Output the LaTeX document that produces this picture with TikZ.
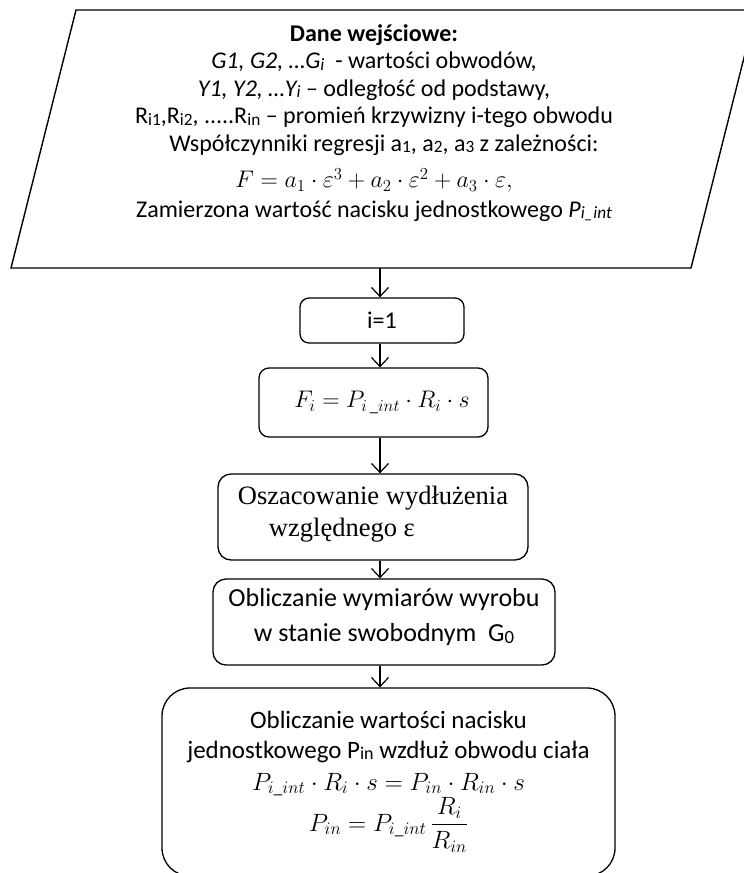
\RequirePackage{fix-cm}
\documentclass[tikz,border=0pt]{standalone}
\usepackage{fontspec}
\usepackage{amsmath}
\usepackage{graphicx}
\setmainfont{Carlito}
\newfontfamily\serifbox{Liberation Serif}
\usetikzlibrary{arrows.meta,calc}

% small, slightly lowered index as typed in the source text
\newcommand\sm[1]{\raisebox{-0.12ex}{\scalebox{0.72}{#1}}}

\begin{document}
\begin{tikzpicture}[x=1pt,y=-1pt,
  box/.style={draw, line width=1.3pt, rounded corners=9pt, inner sep=0pt, align=center},
  arr/.style={line width=1.2pt, -{Straight Barb[length=9pt,width=17pt,line width=1.2pt]}},
  txt/.style={font=\fontsize{24}{27.5}\selectfont},
  big/.style={font=\fontsize{26}{33}\selectfont}
]
\fill[white] (0,0) rectangle (744,873);
\useasboundingbox (0,0) rectangle (744,873);

% input data parallelogram
\coordinate (pTL) at (76,10);
\coordinate (pTR) at (756,10);
\coordinate (pBR) at (691,268);
\coordinate (pBL) at (11,268);
\draw[line width=1.4pt] (pTL) -- (pTR) -- (pBR) -- (pBL) -- cycle;
\coordinate (axis) at (380,0);

\node[txt, align=center, inner sep=0pt] (input) at (374,123) {%
  \textbf{Dane wejściowe:}\\
  \textit{G1, G2, …G\sm{i}}\ \ - wartości obwodów,\hspace*{20pt}\\
  \textit{Y1, Y2, …Y\sm{i}} – odległość od podstawy,\\
  R\sm{i1},R\sm{i2}, .....R\sm{in} – promień krzywizny i-tego obwodu\\
  \hspace*{20pt}Współczynniki regresji a\sm{1}, a\sm{2}, a\sm{3} z zależności:\\[9pt]
  $F = a_1\cdot\varepsilon^3 + a_2\cdot\varepsilon^2 + a_3\cdot\varepsilon,$\\[2pt]
  Zamierzona wartość nacisku jednostkowego \textit{P\sm{i\_int}}};

% process steps
\node[box, txt, minimum width=164pt, minimum height=45pt] (i1) at (382,320.5) {i=1};
\node[box, txt, rounded corners=10pt, minimum width=229pt, minimum height=69pt] (force) at (373.5,402.5)
  {\hspace*{17pt}$F_i = P_{i\,\_int}\cdot R_i\cdot s$};
\node[box, rounded corners=13pt, minimum width=310pt, minimum height=86pt, align=left,
  font=\serifbox\fontsize{26.5}{32}\selectfont] (strain) at (373,517)
  {Oszacowanie wydłużenia\\\hspace*{31pt}względnego ε\\[-20pt]};
\node[box, big, rounded corners=13pt, minimum width=342pt, minimum height=86pt] (free) at (384,622)
  {Obliczanie wymiarów wyrobu\\[2pt]w stanie swobodnym\ \ G\sm{0}\\[-19pt]};
\node[box, font=\fontsize{25}{30}\selectfont, rounded corners=28pt, minimum width=453pt, minimum height=188pt] (press) at (388.5,782)
  {Obliczanie wartości nacisku\\
   jednostkowego P\sm{in} wzdłuż obwodu ciała\\[2pt]
   $P_{i\_int}\cdot R_i\cdot s = P_{in}\cdot R_{in}\cdot s$\\
   $P_{in} = P_{i\_int}\,\dfrac{R_i}{R_{in}}$\\[-8pt]};

% connectors
\draw[arr] (pBL -| axis) -- (i1.north -| axis);
\draw[arr] (i1.south -| axis) -- (force.north -| axis);
\draw[arr] (force.south -| axis) -- (strain.north -| axis);
\draw[arr] (strain.south -| axis) -- (free.north -| axis);
\draw[arr] (free.south -| axis) -- (press.north -| axis);
\end{tikzpicture}
\end{document}
